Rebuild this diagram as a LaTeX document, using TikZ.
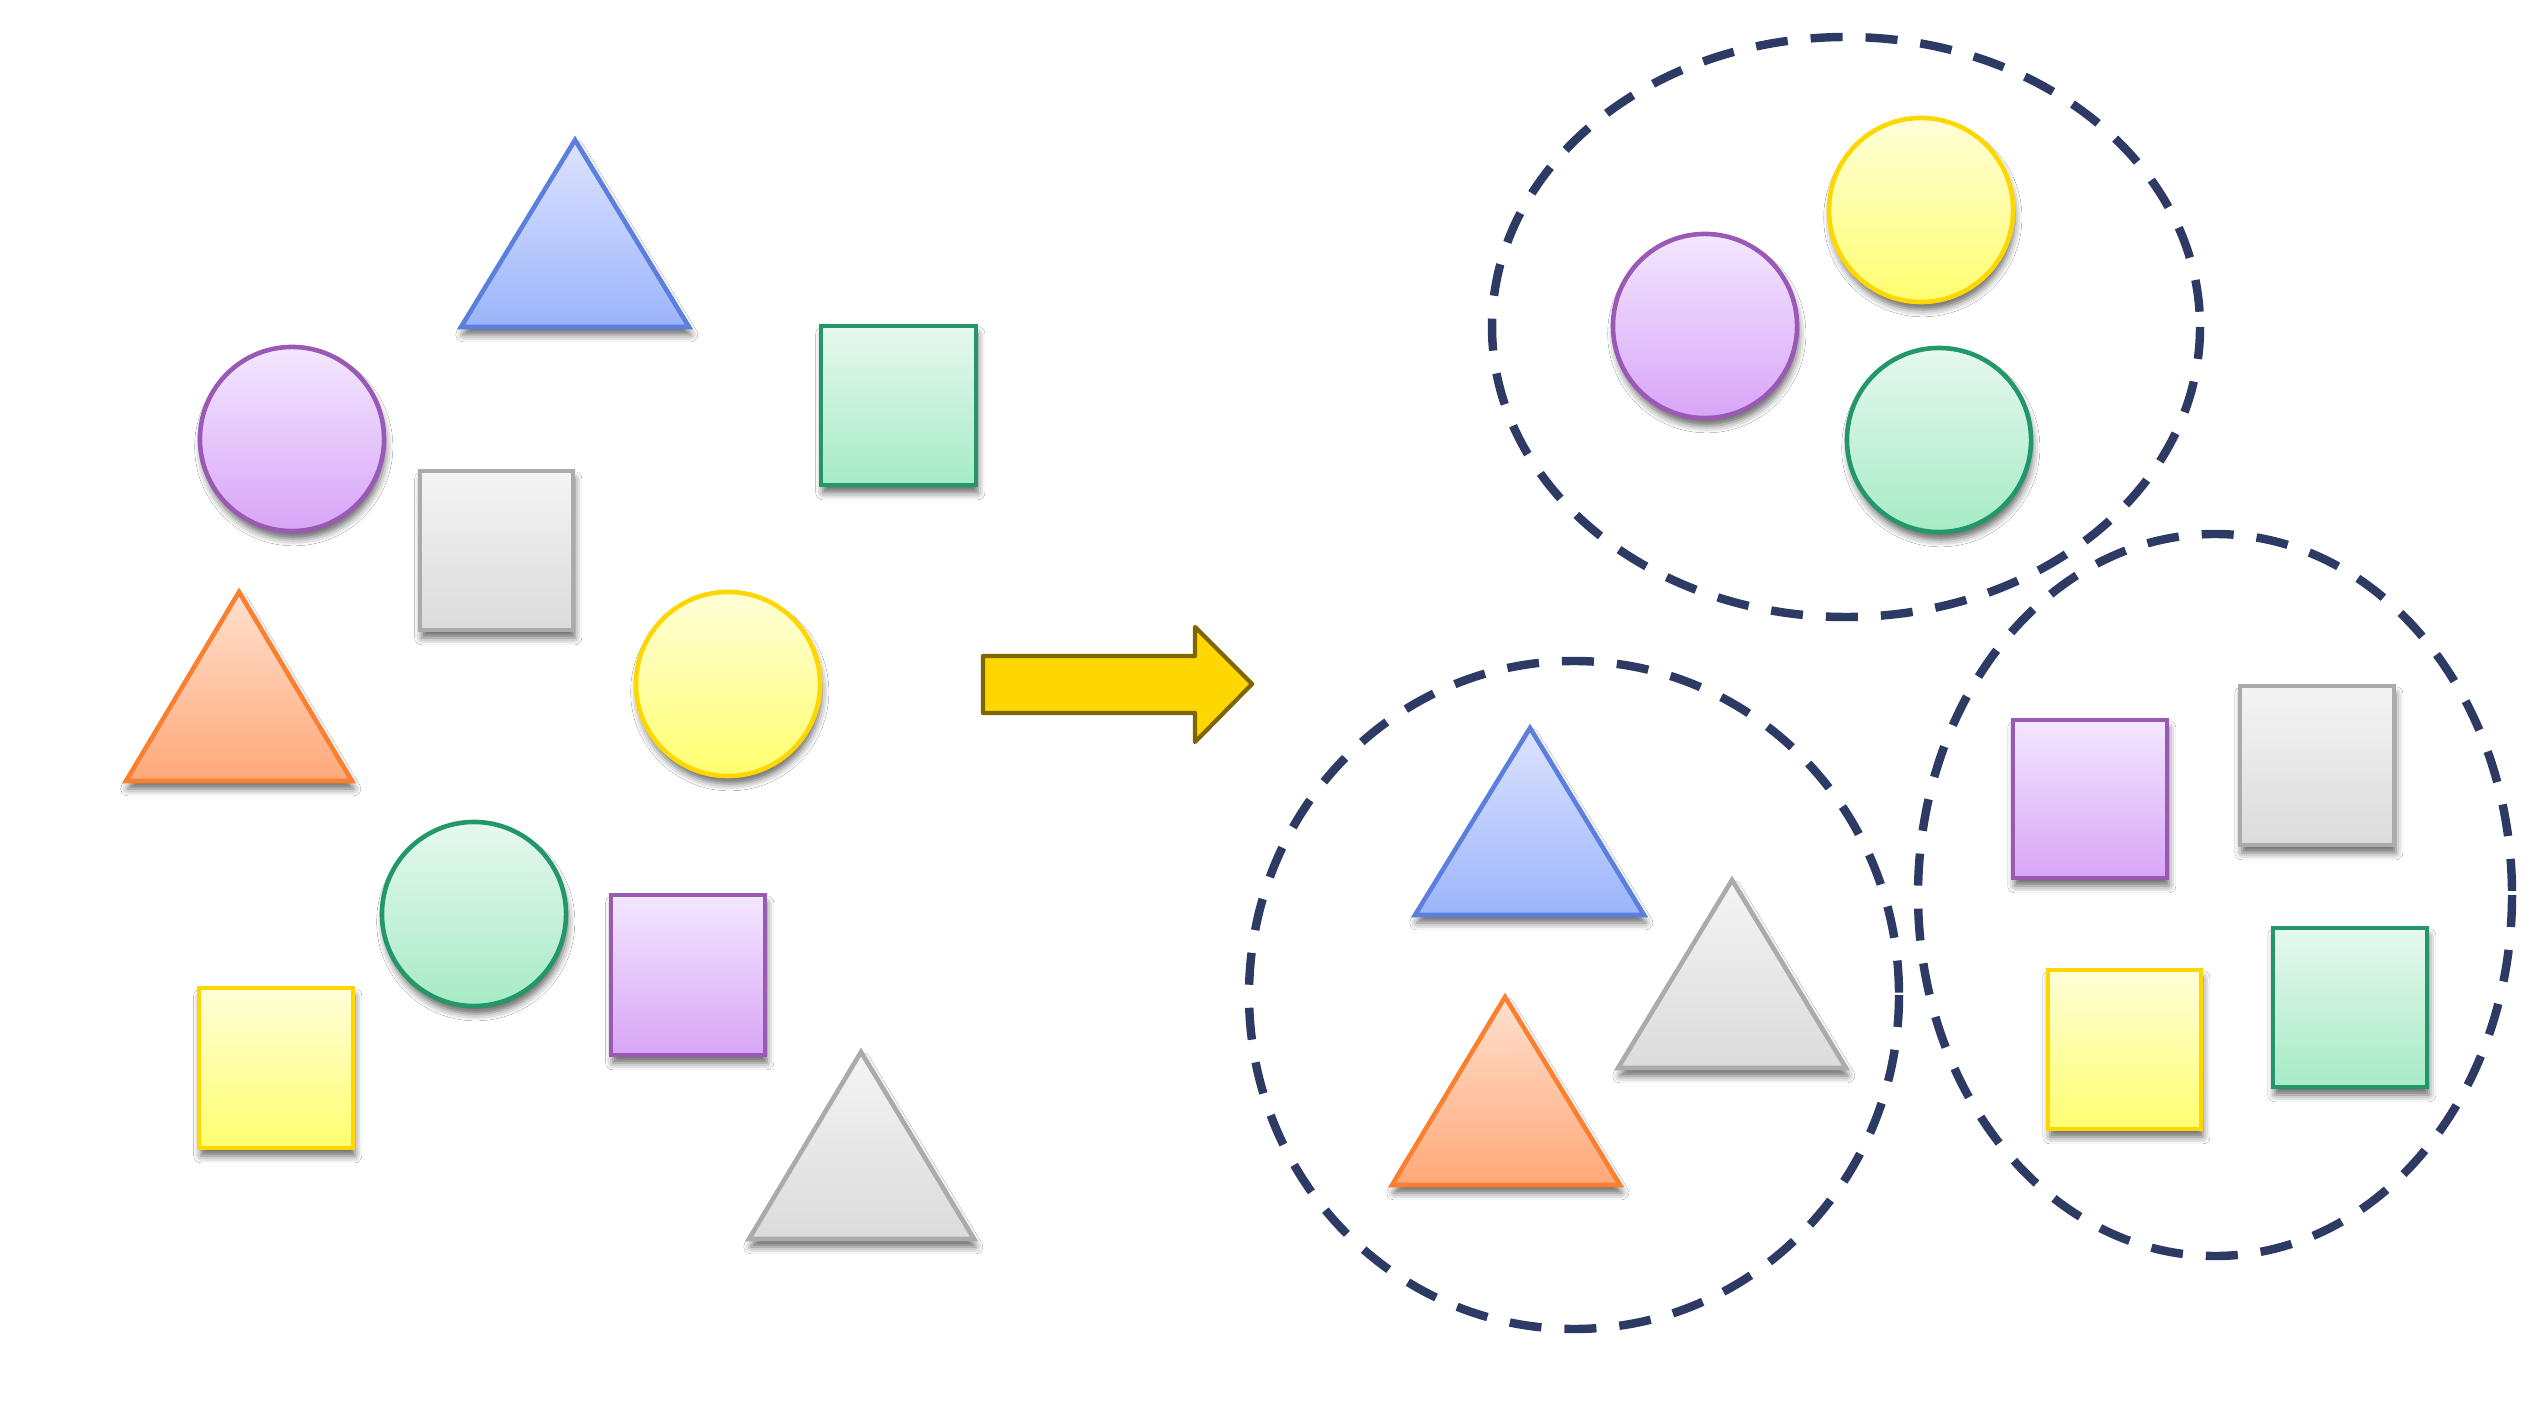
\documentclass[tikz,border=0pt]{standalone}
\usetikzlibrary{shadows.blur}
\definecolor{bluetop}{HTML}{DDE3FF}\definecolor{bluebot}{HTML}{9BB4FA}\definecolor{bluedraw}{HTML}{5A7FDC}
\definecolor{greentop}{HTML}{E6F8EE}\definecolor{greenbot}{HTML}{A6EBC6}\definecolor{greendraw}{HTML}{23976A}
\definecolor{purpletop}{HTML}{F3E7FF}\definecolor{purplebot}{HTML}{D8A5F7}\definecolor{purpledraw}{HTML}{9B59B6}
\definecolor{graytop}{HTML}{F4F4F4}\definecolor{graybot}{HTML}{DBDBDB}\definecolor{graydraw}{HTML}{ABABAB}
\definecolor{orangetop}{HTML}{FFE0CE}\definecolor{orangebot}{HTML}{FFA878}\definecolor{orangedraw}{HTML}{FA7F2E}
\definecolor{yellowtop}{HTML}{FFFFD8}\definecolor{yellowbot}{HTML}{FFFF70}\definecolor{yellowdraw}{HTML}{FFD700}
\definecolor{groupline}{HTML}{2C3A64}
\definecolor{arrowfill}{HTML}{FFD700}\definecolor{arrowdraw}{HTML}{7F6600}
\tikzset{
  shp/.style={line width=1.3pt, line join=miter,
    blur shadow={shadow xshift=0.5pt, shadow yshift=-2.2pt, shadow blur radius=2pt, shadow opacity=60}},
  bluefig/.style={shp, draw=bluedraw, top color=bluetop, bottom color=bluebot},
  greenfig/.style={shp, draw=greendraw, top color=greentop, bottom color=greenbot},
  purplefig/.style={shp, draw=purpledraw, top color=purpletop, bottom color=purplebot},
  grayfig/.style={shp, draw=graydraw, top color=graytop, bottom color=graybot},
  orangefig/.style={shp, draw=orangedraw, top color=orangetop, bottom color=orangebot},
  yellowfig/.style={shp, draw=yellowdraw, top color=yellowtop, bottom color=yellowbot},
  groupring/.style={draw=groupline, line width=2.4pt, dash pattern=on 0.32cm off 0.23cm},
  bigarrow/.style={draw=arrowdraw, fill=arrowfill, line width=1.2pt, line join=round}
}
\begin{document}
\begin{tikzpicture}[x=0.01cm, y=-0.01cm]
\useasboundingbox[fill=white] (0,0) rectangle (2531,1416);

% ---- left: unsorted shapes ----
\path[bluefig]   (575,140) -- (689,327) -- (461,327) -- cycle;
\path[greenfig]  (821,326) rectangle (976,485);
\path[purplefig] (292,439) circle [radius=0.92cm];
\path[grayfig]   (420,471) rectangle (573,630);
\path[orangefig] (239,592) -- (352,781) -- (126,781) -- cycle;
\path[yellowfig] (728,684) circle [radius=0.92cm];
\path[greenfig]  (474,914) circle [radius=0.92cm];
\path[purplefig] (611,895) rectangle (765,1055);
\path[yellowfig] (199,988) rectangle (353,1148);
\path[grayfig]   (861,1052) -- (974,1239) -- (749,1239) -- cycle;

% ---- arrow ----
\path[bigarrow] (983,656) -- (1195,656) -- (1195,627) -- (1252,684) -- (1195,742) -- (1195,713) -- (983,713) -- cycle;

% ---- right: group of circles ----
\path[purplefig] (1705,326) circle [radius=0.92cm];
\path[yellowfig] (1921,210) circle [radius=0.92cm];
\path[greenfig]  (1939,440) circle [radius=0.92cm];

% ---- right: group of triangles ----
\path[bluefig]   (1530,728) -- (1644,915) -- (1415,915) -- cycle;
\path[grayfig]   (1732,880) -- (1846,1068) -- (1618,1068) -- cycle;
\path[orangefig] (1505,997) -- (1620,1185) -- (1392,1185) -- cycle;

% ---- right: group of squares ----
\path[purplefig] (2013,720) rectangle (2167,878);
\path[grayfig]   (2240,686) rectangle (2394,845);
\path[yellowfig] (2048,970) rectangle (2201,1129);
\path[greenfig]  (2273,928) rectangle (2427,1087);

% ---- dashed group outlines ----
\draw[groupring] (1846,327) ellipse [x radius=354, y radius=290];
\draw[groupring] (1574,995) ellipse [x radius=325, y radius=334];
\draw[groupring] (2215,895) ellipse [x radius=297, y radius=361];
\end{tikzpicture}
\end{document}
